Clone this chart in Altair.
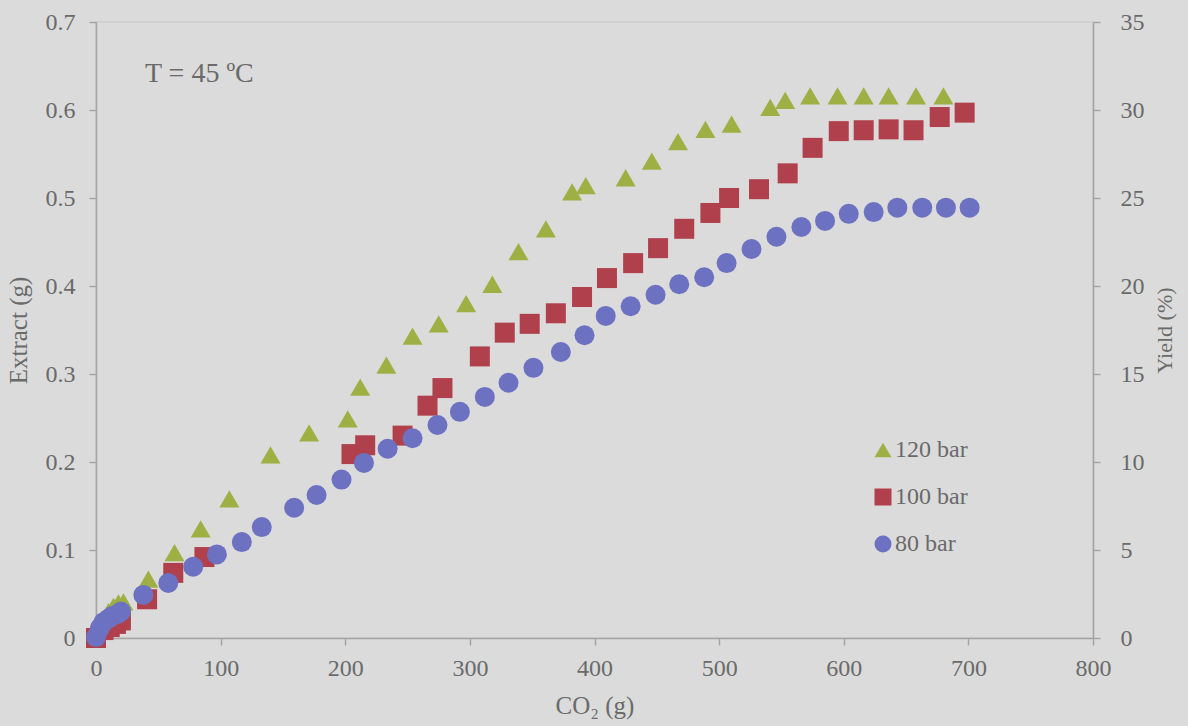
import altair as alt
import pandas as pd

# Cumulative extract (g) against CO2 passed (g), supercritical extraction at 45 °C
co2_120 = [0, 6, 10, 14, 18, 22, 42, 63, 84, 107, 140, 171, 202, 212, 233, 254, 275, 297,
           318, 339, 361, 382, 393, 425, 446, 467, 489, 510, 541, 553, 573, 595, 616, 636,
           658, 680]
ext_120 = [0.001, 0.020, 0.030, 0.036, 0.040, 0.041, 0.067, 0.097, 0.124, 0.158, 0.208,
           0.233, 0.249, 0.285, 0.310, 0.343, 0.357, 0.380, 0.402, 0.439, 0.465, 0.507,
           0.514, 0.523, 0.542, 0.564, 0.578, 0.584, 0.603, 0.611, 0.616, 0.616, 0.616,
           0.616, 0.616, 0.616]

co2_100 = [0, 6, 11, 16, 20, 41, 62, 87, 205, 216, 246, 266, 278, 308, 328, 348, 369, 390,
           410, 431, 451, 472, 493, 508, 532, 555, 575, 596, 616, 636, 656, 677, 697]
ext_100 = [0.000, 0.009, 0.0125, 0.016, 0.020, 0.044, 0.074, 0.092, 0.209, 0.219, 0.230,
           0.264, 0.284, 0.320, 0.347, 0.357, 0.369, 0.3875, 0.409, 0.426, 0.443, 0.465,
           0.483, 0.500, 0.510, 0.528, 0.557, 0.576, 0.577, 0.578, 0.577, 0.592, 0.597]

co2_80 = [0, 3, 6, 10, 13, 17, 20, 38, 58, 78, 97, 117, 133, 159, 177, 197, 215, 234, 254,
          274, 292, 312, 331, 351, 373, 392, 409, 429, 449, 468, 488, 506, 526, 546, 566,
          585, 604, 624, 643, 663, 682, 701]
ext_80 = [0.001, 0.011, 0.018, 0.022, 0.025, 0.027, 0.030, 0.049, 0.0625, 0.081, 0.095,
          0.109, 0.126, 0.148, 0.1625, 0.180, 0.199, 0.215, 0.227, 0.242, 0.257, 0.274,
          0.290, 0.307, 0.325, 0.344, 0.366, 0.377, 0.390, 0.402, 0.410, 0.426, 0.442,
          0.456, 0.467, 0.474, 0.482, 0.484, 0.489, 0.489, 0.489, 0.489]

series_order = ["120 bar", "100 bar", "80 bar"]
series_colors = ["#9eb044", "#b0404b", "#6d71c1"]
series_shapes = ["triangle-up", "square", "circle"]

x_ticks = [0, 100, 200, 300, 400, 500, 600, 700, 800]
extract_ticks = [0, 0.1, 0.2, 0.3, 0.4, 0.5, 0.6, 0.7]
yield_ticks = [0, 5, 10, 15, 20, 25, 30, 35]

rows = []
for name, xs, ys in [("120 bar", co2_120, ext_120),
                     ("100 bar", co2_100, ext_100),
                     ("80 bar", co2_80, ext_80)]:
    for xv, yv in zip(xs, ys):
        rows.append({"series": name, "co2": xv, "extract": yv})
df = pd.DataFrame(rows)

FONT = "Liberation Serif"
TEXT = "#6a6a6a"
LINE = "#a4a4a4"
BG = "#dbdbdb"

x_enc = alt.X(
    "co2:Q",
    scale=alt.Scale(domain=[0, 800], nice=False),
    axis=alt.Axis(title="CO₂ (g)", values=x_ticks, labelPadding=11, titlePadding=13),
)

legend = alt.Legend(
    title=None, orient="none", legendX=775, legendY=416, padding=0,
    symbolSize=289, labelFontSize=24, labelFont=FONT, labelColor=TEXT,
    labelOffset=0, rowPadding=23, symbolStrokeWidth=0,
)

points = alt.Chart(df).mark_point(filled=True, opacity=1, size=400).encode(
    x=x_enc,
    y=alt.Y(
        "extract:Q",
        scale=alt.Scale(domain=[0, 0.7], nice=False),
        axis=alt.Axis(title="Extract (g)", values=extract_ticks, format=".1~f",
                      orient="left", labelPadding=14, titlePadding=14),
    ),
    color=alt.Color("series:N", scale=alt.Scale(domain=series_order, range=series_colors),
                    legend=legend),
    shape=alt.Shape("series:N", scale=alt.Scale(domain=series_order, range=series_shapes),
                    legend=legend),
)

# Secondary axis: yield (%) on the same vertical extent
yield_axis = alt.Chart(df).transform_calculate(
    yield_pct="datum.extract * 50"
).mark_point(opacity=0).encode(
    x=x_enc,
    y=alt.Y(
        "yield_pct:Q",
        scale=alt.Scale(domain=[0, 35], nice=False),
        axis=alt.Axis(title="Yield (%)", values=yield_ticks, format="d", orient="right",
                      labelPadding=20, titlePadding=10, titleAngle=270,
                      titleBaseline="top", titleFontSize=22),
    ),
)

note = alt.Chart(pd.DataFrame({"label": ["T = 45 ºC"]})).mark_text(
    align="left", baseline="alphabetic", font=FONT, fontSize=28, color=TEXT
).encode(x=alt.value(49), y=alt.value(60), text="label:N")

chart = alt.layer(points, yield_axis, note).resolve_scale(y="independent").properties(
    width=997, height=616,
    autosize=alt.AutoSizeParams(type="none"),
    padding={"left": 96, "top": 22, "right": 95, "bottom": 88},
    background=BG,
).configure_view(
    stroke="#cdcdcd", strokeWidth=1.5
).configure_axis(
    grid=False, labelFont=FONT, titleFont=FONT, labelFontSize=24, titleFontSize=25,
    titleFontWeight="normal", labelColor=TEXT, titleColor=TEXT, domainColor=LINE,
    tickColor=LINE, tickSize=7, domainWidth=1.5, tickWidth=1.5, labelFlush=False,
)

chart.save("out.html", embed_options={"renderer": "svg", "actions": False})
